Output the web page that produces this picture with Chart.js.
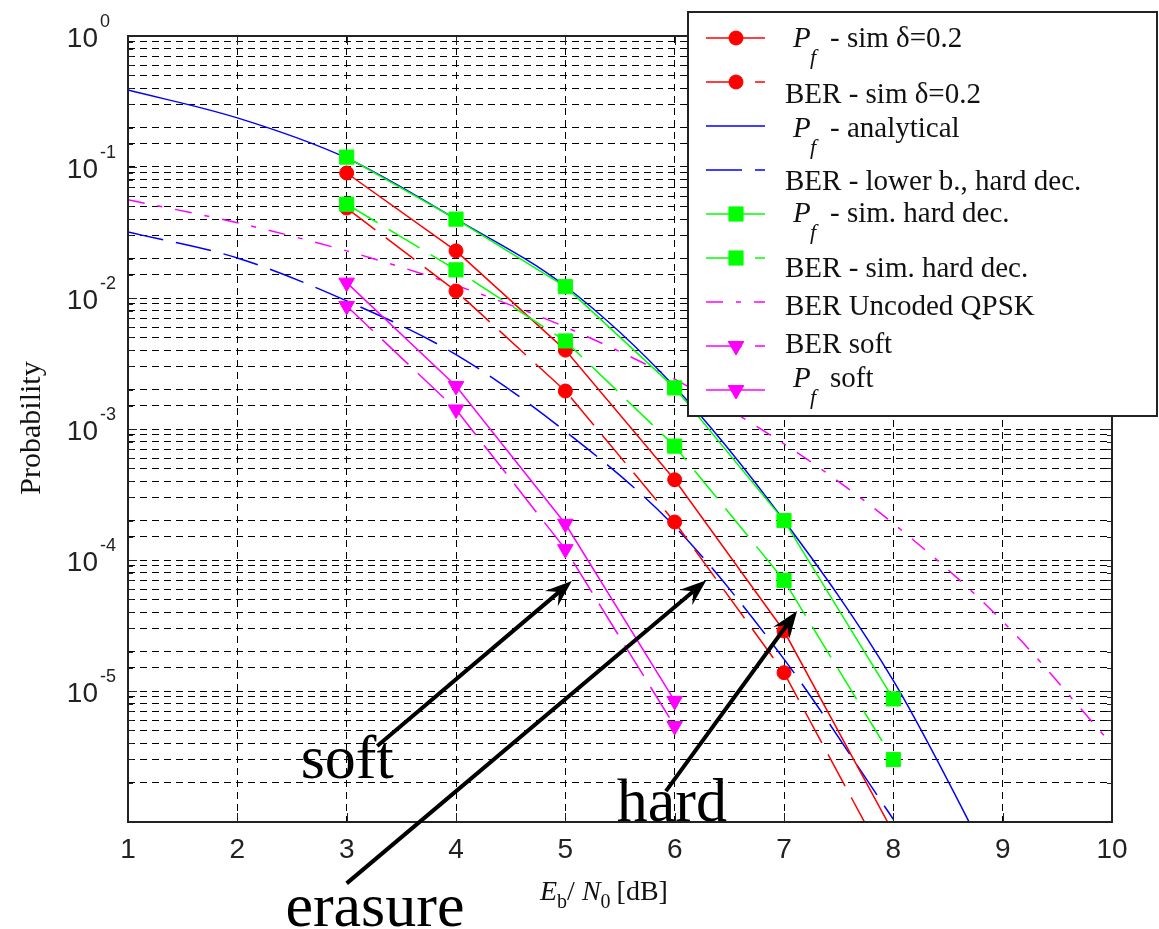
<!DOCTYPE html>
<html>
<head>
<meta charset="utf-8">
<script src="https://cdn.jsdelivr.net/npm/chart.js@4.4.0/dist/chart.umd.min.js"></script>
<style>
  html, body { margin: 0; padding: 0; background: #fff; }
  #wrap { position: relative; width: 1159px; height: 929px; }
</style>
</head>
<body>
<div id="wrap"><canvas id="chart" width="1159" height="929"></canvas></div>
<script>
// values
const snrSim = [3, 4, 5, 6, 7, 8];
const pfSimDelta = [0.090, 0.0229, 4.0e-3, 4.1e-4, 2.87e-5, 8.3e-7];
const berSimDelta = [0.0486, 0.0113, 1.95e-3, 1.95e-4, 1.38e-5, 3.9e-7];
const pfSimHard = [0.119, 0.040, 0.0122, 2.06e-3, 2.0e-4, 8.7e-6];
const berSimHard = [0.052, 0.0164, 4.7e-3, 7.4e-4, 7.0e-5, 3.0e-6];

const snrSoft = [3, 4, 5, 6];
const berSoft = [8.7e-3, 1.41e-3, 1.21e-4, 5.4e-6];
const pfSoft = [0.0131, 2.13e-3, 1.89e-4, 8.4e-6];

const snrAnalytic = [1, 2, 3, 4, 5, 6, 7, 8, 9];
const pfAnalytic = [0.387, 0.237, 0.117, 0.040, 0.0123, 2.1e-3, 2.0e-4, 1.2e-5, 3.2e-7];

const snrLower = [1, 2, 3, 4, 5, 6, 7, 8];
const berLower = [0.0319, 0.0202, 9.5e-3, 3.7e-3, 9.6e-4, 1.8e-4, 1.75e-5, 1.05e-6];

const snrUncoded = [1, 2, 3, 4, 5, 6, 7, 8, 9, 10];
const berUncoded = [0.0563, 0.0375, 0.0229, 0.0125, 6.0e-3, 2.4e-3, 7.7e-4, 1.9e-4, 3.4e-5, 3.9e-6];

const xTickLabels = [1, 2, 3, 4, 5, 6, 7, 8, 9, 10];
const yTickExponents = [0, -1, -2, -3, -4, -5];

const seriesLabels = [
  'P_f - sim δ=0.2',
  'BER - sim δ=0.2',
  'P_f - analytical',
  'BER - lower b., hard dec.',
  'P_f - sim. hard dec.',
  'BER - sim. hard dec.',
  'BER Uncoded QPSK',
  'BER soft',
  'P_f soft'
];

// annotation arrows in data coordinates: [tailX, tailY, tipX, tipY]
const arrows = [
  [3.28, 3.8e-6, 5.06, 6.9e-5],
  [3.00, 3.4e-7, 6.29, 7.0e-5],
  [5.92, 1.72e-6, 7.12, 4.08e-5]
];
const arrowTexts = [
  { text: 'soft', x: 2.58, y: 2.17e-6 },
  { text: 'hard', x: 5.47, y: 1.02e-6 },
  { text: 'erasure', x: 2.44, y: 1.6e-7 }
];

const RED = '#ff0000', GREEN = '#00ff00', BLUE = '#0000ff', MAG = '#ff00ff';
const DASH = [36, 13];
const DASHDOT = [17, 13, 5, 13];

function pts(xs, ys) {
  return xs.map((x, i) => ({ x: x, y: ys[i] }));
}

function series(label, xs, ys, color, dash, marker, order) {
  const m = marker || {};
  return {
    label: label,
    data: pts(xs, ys),
    borderColor: color,
    backgroundColor: color,
    borderWidth: 1.5,
    borderDash: dash || [],
    pointStyle: m.style || 'circle',
    pointRadius: m.radius || 0,
    pointRotation: m.rotation || 0,
    pointBackgroundColor: color,
    pointBorderColor: color,
    pointBorderWidth: 1,
    cubicInterpolationMode: m.smooth ? 'monotone' : 'default',
    order: order
  };
}

const circle = { style: 'circle', radius: 7 };
const square = { style: 'rect', radius: 10 };
const tri = { style: 'triangle', radius: 9, rotation: 180 };

const datasets = [
  series(seriesLabels[0], snrSim, pfSimDelta, RED, null, circle, 1),
  series(seriesLabels[1], snrSim, berSimDelta, RED, DASH, circle, 1),
  series(seriesLabels[2], snrAnalytic, pfAnalytic, BLUE, null, { smooth: true }, 2),
  series(seriesLabels[3], snrLower, berLower, BLUE, DASH, { smooth: true }, 2),
  series(seriesLabels[4], snrSim, pfSimHard, GREEN, null, square, 0),
  series(seriesLabels[5], snrSim, berSimHard, GREEN, DASH, square, 0),
  series(seriesLabels[6], snrUncoded, berUncoded, MAG, DASHDOT, { smooth: true }, 2),
  series(seriesLabels[7], snrSoft, berSoft, MAG, DASH, tri, 1),
  series(seriesLabels[8], snrSoft, pfSoft, MAG, null, tri, 1)
];

function drawMarker(ctx, style, r, rot, x, y, color) {
  ctx.save();
  ctx.fillStyle = color; ctx.strokeStyle = color; ctx.lineWidth = 1; ctx.setLineDash([]);
  ctx.beginPath();
  if (style === 'circle') {
    ctx.arc(x, y, r, 0, Math.PI * 2);
  } else if (style === 'rect') {
    const s = r * Math.SQRT1_2;
    ctx.rect(x - s, y - s, 2 * s, 2 * s);
  } else if (style === 'triangle') {
    let a = rot * Math.PI / 180;
    ctx.moveTo(x + Math.sin(a) * r, y - Math.cos(a) * r);
    a += 2 * Math.PI / 3;
    ctx.lineTo(x + Math.sin(a) * r, y - Math.cos(a) * r);
    a += 2 * Math.PI / 3;
    ctx.lineTo(x + Math.sin(a) * r, y - Math.cos(a) * r);
    ctx.closePath();
  }
  ctx.fill(); ctx.stroke();
  ctx.restore();
}

function drawArrow(ctx, x1, y1, x2, y2) {
  const ang = Math.atan2(y2 - y1, x2 - x1);
  const L = 27, W = 10, N = 17;
  ctx.save();
  ctx.strokeStyle = '#000'; ctx.fillStyle = '#000'; ctx.lineWidth = 4; ctx.setLineDash([]);
  ctx.beginPath();
  ctx.moveTo(x1, y1);
  ctx.lineTo(x2 - Math.cos(ang) * N, y2 - Math.sin(ang) * N);
  ctx.stroke();
  ctx.translate(x2, y2);
  ctx.rotate(ang);
  ctx.beginPath();
  ctx.moveTo(0, 0);
  ctx.lineTo(-L, -W);
  ctx.lineTo(-N, 0);
  ctx.lineTo(-L, W);
  ctx.closePath();
  ctx.fill();
  ctx.restore();
}

const legendBox = { left: 688, top: 12, right: 1157, bottom: 416 };
const legendLineY = [38, 82, 126, 170, 214, 258, 302, 346, 390];
const legendTextY = [47, 103, 137, 190, 222, 277, 315, 353, 387];

const overlay = {
  id: 'overlay',
  afterDraw(chart) {
    const { ctx, chartArea: a, scales } = chart;
    const xs = scales.x, ys = scales.y;
    ctx.save();
    ctx.setLineDash([]);

    // inward tick marks
    ctx.strokeStyle = '#222'; ctx.lineWidth = 1;
    ctx.beginPath();
    xTickLabels.forEach(v => {
      const px = Math.round(xs.getPixelForValue(v)) + 0.5;
      ctx.moveTo(px, a.bottom); ctx.lineTo(px, a.bottom - 9);
      ctx.moveTo(px, a.top); ctx.lineTo(px, a.top + 9);
    });
    ys.ticks.forEach(t => {
      const py = Math.round(ys.getPixelForValue(t.value)) + 0.5;
      const major = Math.abs(Math.log10(t.value) - Math.round(Math.log10(t.value))) < 1e-6;
      const len = major ? 9 : 5;
      ctx.moveTo(a.left, py); ctx.lineTo(a.left + len, py);
      ctx.moveTo(a.right, py); ctx.lineTo(a.right - len, py);
    });
    ctx.stroke();

    // frame
    ctx.strokeStyle = '#222'; ctx.lineWidth = 2;
    ctx.strokeRect(a.left, a.top, a.right - a.left, a.bottom - a.top);

    // tick labels
    ctx.fillStyle = '#222';
    ctx.textBaseline = 'alphabetic';
    ctx.font = '28px "Liberation Sans", Arial, sans-serif';
    ctx.textAlign = 'center';
    xTickLabels.forEach(v => {
      ctx.fillText(String(v), xs.getPixelForValue(v), a.bottom + 36);
    });
    yTickExponents.forEach(e => {
      const py = ys.getPixelForValue(Math.pow(10, e));
      ctx.font = '28px "Liberation Sans", Arial, sans-serif';
      ctx.textAlign = 'right';
      ctx.fillText('10', 98, py + 11);
      ctx.font = '18px "Liberation Sans", Arial, sans-serif';
      ctx.textAlign = 'left';
      ctx.fillText(String(e), 100, py - 9);
    });

    // axis titles
    ctx.fillStyle = '#111';
    ctx.save();
    ctx.translate(40, 428);
    ctx.rotate(-Math.PI / 2);
    ctx.textAlign = 'center';
    ctx.font = '30px "Liberation Serif", "Times New Roman", serif';
    ctx.fillText('Probability', 0, 0);
    ctx.restore();

    let tx = 540;
    const ty = 900;
    ctx.textAlign = 'left';
    ctx.font = 'italic 28px "Liberation Serif", serif';
    ctx.fillText('E', tx, ty); tx += ctx.measureText('E').width;
    ctx.font = '20px "Liberation Serif", serif';
    ctx.fillText('b', tx, ty + 8); tx += ctx.measureText('b').width;
    ctx.font = '28px "Liberation Serif", serif';
    ctx.fillText('/ ', tx, ty); tx += ctx.measureText('/ ').width;
    ctx.font = 'italic 28px "Liberation Serif", serif';
    ctx.fillText('N', tx, ty); tx += ctx.measureText('N').width;
    ctx.font = '20px "Liberation Serif", serif';
    ctx.fillText('0', tx, ty + 8); tx += ctx.measureText('0').width + 6;
    ctx.font = '28px "Liberation Serif", serif';
    ctx.fillText('[dB]', tx, ty);

    // annotations
    arrows.forEach(r => {
      drawArrow(ctx, xs.getPixelForValue(r[0]), ys.getPixelForValue(r[1]),
                xs.getPixelForValue(r[2]), ys.getPixelForValue(r[3]));
    });
    ctx.fillStyle = '#000';
    ctx.font = '62px "Liberation Serif", "Times New Roman", serif';
    arrowTexts.forEach(t => {
      ctx.fillText(t.text, xs.getPixelForValue(t.x), ys.getPixelForValue(t.y));
    });

    // legend
    const L = legendBox;
    ctx.fillStyle = '#fff';
    ctx.fillRect(L.left, L.top, L.right - L.left, L.bottom - L.top);
    ctx.strokeStyle = '#222'; ctx.lineWidth = 2;
    ctx.strokeRect(L.left, L.top, L.right - L.left, L.bottom - L.top);
    chart.data.datasets.forEach((ds, i) => {
      const ly = legendLineY[i];
      ctx.save();
      ctx.strokeStyle = ds.borderColor; ctx.lineWidth = 1.5;
      ctx.setLineDash(ds.borderDash);
      ctx.beginPath(); ctx.moveTo(706, ly); ctx.lineTo(765, ly); ctx.stroke();
      ctx.restore();
      if (ds.pointRadius > 0) {
        drawMarker(ctx, ds.pointStyle, ds.pointRadius, ds.pointRotation, 736, ly, ds.borderColor);
      }
      const by = legendTextY[i];
      ctx.fillStyle = '#111';
      ctx.textAlign = 'left';
      if (ds.label.startsWith('P_f')) {
        ctx.font = 'italic 29px "Liberation Serif", serif';
        ctx.fillText('P', 793, by);
        ctx.font = 'italic 22px "Liberation Serif", serif';
        ctx.fillText('f', 810, by + 17);
        ctx.font = '29px "Liberation Serif", serif';
        ctx.fillText(ds.label.slice(4), 830, by);
      } else {
        ctx.font = '29px "Liberation Serif", serif';
        ctx.fillText(ds.label, 785, by);
      }
    });
    ctx.restore();
  }
};

const gridStyle = { color: '#000', lineWidth: 1, drawTicks: false };

new Chart(document.getElementById('chart'), {
  type: 'line',
  data: { datasets: datasets },
  options: {
    responsive: false,
    devicePixelRatio: 1,
    animation: false,
    layout: { padding: { left: 128, top: 36, right: 47, bottom: 107 } },
    plugins: { legend: { display: false }, tooltip: { enabled: false } },
    scales: {
      x: {
        type: 'linear', min: 1, max: 10,
        ticks: { display: false, stepSize: 1 },
        grid: gridStyle,
        border: { display: false, dash: [7, 5] }
      },
      y: {
        type: 'logarithmic', min: 1e-6, max: 1,
        ticks: { display: false },
        grid: gridStyle,
        border: { display: false, dash: [7, 5] }
      }
    }
  },
  plugins: [overlay]
});
</script>
</body>
</html>
